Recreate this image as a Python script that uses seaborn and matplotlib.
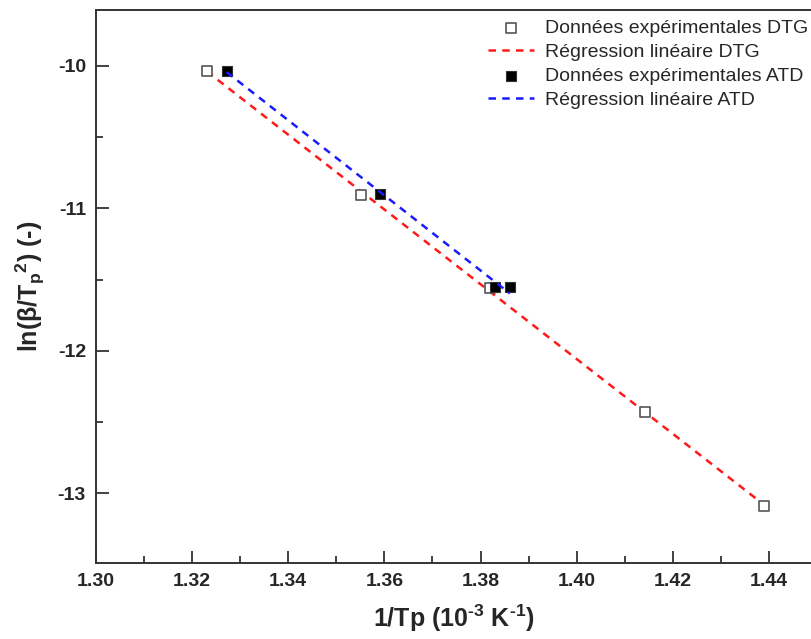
import numpy as np
import pandas as pd
import seaborn as sns
import matplotlib.pyplot as plt

# values
dtg_x = [1.3231, 1.3551, 1.3820, 1.4142, 1.4389]
dtg_y = [-10.035, -10.904, -11.555, -12.428, -13.088]
atd_x = [1.3272, 1.3590, 1.3830, 1.3861]
atd_y = [-10.033, -10.899, -11.554, -11.550]

labels = ["Données expérimentales DTG", "Régression linéaire DTG",
          "Données expérimentales ATD", "Régression linéaire ATD"]

sns.set_style("ticks")
plt.rcParams['font.family'] = ['Liberation Sans', 'DejaVu Sans']
plt.rcParams['axes.unicode_minus'] = False
plt.rcParams['mathtext.fontset'] = 'custom'
plt.rcParams['mathtext.rm'] = 'Liberation Sans'
plt.rcParams['mathtext.bf'] = 'Liberation Sans:bold'
plt.rcParams['mathtext.it'] = 'Liberation Sans:italic'

dtg = pd.DataFrame({"x": dtg_x, "y": dtg_y})
atd = pd.DataFrame({"x": atd_x, "y": atd_y})

fig = plt.figure(figsize=(8.11, 6.39), dpi=100)
ax = fig.add_axes([0.118, 0.1185, 0.882, 0.866])

dash = (0, (3, 2.5))
sns.scatterplot(data=dtg, x="x", y="y", marker="s", s=45, facecolor="white",
                edgecolor="#555555", linewidth=1.2, label=labels[0], ax=ax, zorder=3)
sns.regplot(data=dtg, x="x", y="y", scatter=False, ci=None, ax=ax, label=labels[1],
            line_kws={"color": "#ff1a1a", "linestyle": dash, "linewidth": 1.8, "zorder": 2})
sns.scatterplot(data=atd, x="x", y="y", marker="s", s=55, color="black",
                edgecolor="#333333", linewidth=0.8, label=labels[2], ax=ax, zorder=4)
sns.regplot(data=atd, x="x", y="y", scatter=False, ci=None, ax=ax, label=labels[3],
            line_kws={"color": "#1a1aff", "linestyle": dash, "linewidth": 1.8, "zorder": 5})

ax.set_xlim(1.30, 1.4487)
ax.set_ylim(-13.49, -9.607)
ax.set_xticks(np.arange(1.30, 1.441, 0.02))
ax.set_xticks(np.arange(1.31, 1.45, 0.02), minor=True)
ax.set_yticks([-13, -12, -11, -10])
ax.set_yticks([-12.5, -11.5, -10.5], minor=True)
ax.xaxis.set_major_formatter(plt.FormatStrFormatter('%.2f'))
ax.tick_params(which='major', direction='in', length=9, width=1.3, color='#333333',
               labelsize=14, pad=7)
ax.tick_params(which='minor', direction='in', length=5, width=1.3, color='#333333')
for lab in ax.get_xticklabels() + ax.get_yticklabels():
    lab.set_fontweight('bold')

for side in ['left', 'bottom', 'top']:
    ax.spines[side].set_linewidth(1.4)
    ax.spines[side].set_color('#333333')
ax.spines['right'].set_visible(False)

ax.set_xlabel('1/Tp (10$^{\\mathbf{\u20103}}$ K$^{\\mathbf{\u20101}}$)', fontsize=18,
              fontweight='bold', labelpad=9)
ax.set_ylabel(r'ln(β/T$_{\mathbf{p}}$$^{\mathbf{2}}$) (-)', fontsize=18,
              fontweight='bold', labelpad=8)

handles, labs = ax.get_legend_handles_labels()
order = [labs.index(l) for l in labels]
leg = ax.legend([handles[i] for i in order], [labs[i] for i in order],
                loc='upper right', bbox_to_anchor=(0.997, 0.969), bbox_transform=fig.transFigure,
                frameon=False, fontsize=14, handlelength=2.37, handletextpad=0.57,
                labelspacing=0.32, borderaxespad=0.0, borderpad=0.0)

fig.savefig("out.png", dpi=100)
